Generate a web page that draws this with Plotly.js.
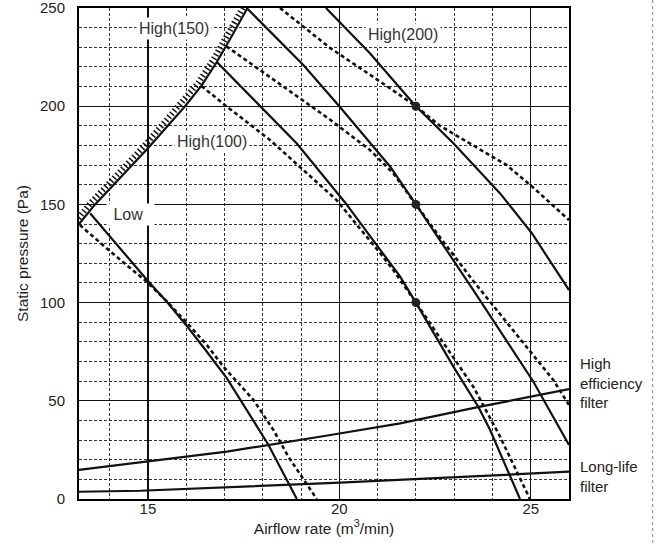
<!DOCTYPE html>
<html>
<head>
<meta charset="utf-8">
<script src="https://cdn.plot.ly/plotly-3.0.1.min.js"></script>
<style>html,body{margin:0;padding:0;background:#fff;}#chart{width:656px;height:543px;}</style>
</head>
<body>
<div id="chart"></div>
<script>
// ---- data ----
const xTickVals = [15, 20, 25];
const yTickVals = [0, 50, 100, 150, 200, 250];

// operating-limit boundary (hatched)
const limitX = [13.2, 13.62, 15.0, 15.97, 16.4, 16.8, 17.2, 17.6];
const limitY = [140, 150, 178.6, 200, 210.5, 222.5, 236, 250];

// Low
const lowSolidX = [13.49, 15.0, 15.5, 16.0, 16.5, 17.06, 17.8, 18.15, 18.89];
const lowSolidY = [145.5, 111, 100.3, 88.5, 76, 61.5, 38.5, 27.5, 0];
const lowDashX = [13.22, 14.02, 14.97, 15.5, 16.1, 16.54, 16.97, 17.76, 18.28, 18.67, 19.41];
const lowDashY = [139.5, 126, 110.6, 100.5, 88, 78.4, 67.4, 50.4, 35.1, 21.5, 0];

// High(100)
const h100SolidX = [16.8, 17.93, 18.89, 20.15, 21.0, 21.59, 22.0, 22.98, 23.63, 23.94, 24.72];
const h100SolidY = [222.5, 200, 181, 151, 129, 113.2, 100, 67.4, 47, 35.1, 0];
const h100DashX = [16.4, 17.05, 18.19, 19.93, 21.07, 21.41, 22.0, 22.72, 23.5, 24.2, 24.98];
const h100DashY = [210.3, 200, 182.8, 152.2, 125.1, 116.6, 100, 79.3, 57.2, 31.7, 0];

// High(150)
const h150SolidX = [17.58, 19.06, 20.0, 21.33, 22.0, 23.5, 25.07, 26.0];
const h150SolidY = [250, 221, 200, 169.2, 150, 106.4, 59.7, 27.5];
const h150DashX = [17.05, 19.77, 20.8, 21.07, 21.41, 22.0, 22.6, 23.5, 24.46, 25.16, 25.59, 26.0];
const h150DashY = [230.5, 193, 177.7, 172.6, 165.8, 150, 134, 111, 87.7, 70.8, 60.6, 47.9];

// High(200)
const h200SolidX = [19.65, 20.8, 21.59, 22.0, 22.98, 24.2, 25.03, 26.0];
const h200SolidY = [250, 227, 209.1, 200, 181.1, 155.6, 135.3, 106.4];
const h200DashX = [18.45, 19.77, 21.07, 22.0, 22.63, 23.5, 24.37, 25.1, 26.0];
const h200DashY = [250, 229.5, 212.5, 200, 190, 180, 170, 158, 142];

// filter resistance curves
const highEffX = [13.2, 15.0, 17.06, 19.77, 21.59, 23.68, 26.0];
const highEffY = [14.8, 19.0, 24.1, 32.6, 38.5, 47.0, 56.0];
const longLifeX = [13.2, 14.8, 20.02, 22.36, 26.0];
const longLifeY = [3.7, 4.2, 8.3, 10.5, 13.9];

// rated points
const ratedX = [22, 22, 22];
const ratedY = [200, 150, 100];

// in-plot labels
const labelText = ['High(150)', 'High(100)', '&nbsp;Low&nbsp;&nbsp;', 'High(200)'];
const labelX = [15.67, 16.67, 14.55, 21.66];
const labelY = [239.7, 181.9, 145.0, 236.3];
const sideText = ['High<br>efficiency<br>filter', 'Long-life<br>filter'];
const sideY = [59.2, 11.5];

// ---- layout geometry ----
const W = 656, H = 543;
const M = {l: 79, r: 87, t: 8, b: 44, pad: 0};
const xRange = [13.2, 26];
const yRange = [0, 250];
const plotW = W - M.l - M.r, plotH = H - M.t - M.b;
const pxX = plotW / (xRange[1] - xRange[0]);
const pxY = plotH / (yRange[1] - yRange[0]);
// hatch offset toward upper-left (pixels)
const hatchDx = 3.2, hatchDy = 2.8;

const FONT = 'Liberation Sans, Arial, Helvetica, sans-serif';
const INK = '#111';

function solid(x, y) {
  return {x, y, type: 'scatter', mode: 'lines', hoverinfo: 'skip', showlegend: false,
          line: {color: INK, width: 2.2}};
}
function dashed(x, y) {
  return {x, y, type: 'scatter', mode: 'lines', hoverinfo: 'skip', showlegend: false,
          line: {color: INK, width: 2.6, dash: '4px,3px'}};
}

const traces = [
  // hatch marks on shifted overlay axes
  {x: limitX, y: limitY, xaxis: 'x2', yaxis: 'y2', type: 'scatter', mode: 'lines',
   hoverinfo: 'skip', showlegend: false,
   line: {color: INK, width: 6, dash: '1.5px,2.6px'}},
  solid(limitX, limitY),
  solid(lowSolidX, lowSolidY), dashed(lowDashX, lowDashY),
  solid(h100SolidX, h100SolidY), dashed(h100DashX, h100DashY),
  solid(h150SolidX, h150SolidY), dashed(h150DashX, h150DashY),
  solid(h200SolidX, h200SolidY), dashed(h200DashX, h200DashY),
  solid(highEffX, highEffY), solid(longLifeX, longLifeY),
  {x: ratedX, y: ratedY, type: 'scatter', mode: 'markers', hoverinfo: 'skip', showlegend: false,
   marker: {color: '#222', size: 9}}
];

const annotations = labelText.map((t, i) => ({
  x: labelX[i], y: labelY[i], xref: 'x', yref: 'y', text: t, showarrow: false,
  bgcolor: '#fff', borderpad: 2, font: {family: FONT, size: 16, color: '#333'}
}));
sideText.forEach((t, i) => annotations.push({
  x: (578 - M.l) / plotW, xref: 'paper', y: sideY[i], yref: 'y', text: t,
  showarrow: false, xanchor: 'left', yanchor: 'middle', align: 'left',
  font: {family: FONT, size: 15, color: '#222'}
}));

const gridMinor = {showgrid: true, gridcolor: '#333', gridwidth: 1, griddash: '3px,2px'};

const layout = {
  width: W, height: H, margin: M,
  paper_bgcolor: '#fff', plot_bgcolor: '#fff',
  font: {family: FONT, size: 15, color: '#222'},
  showlegend: false,
  xaxis: {
    range: xRange, tickvals: xTickVals, ticks: '', showgrid: true, gridcolor: '#111', gridwidth: 1.2,
    minor: Object.assign({dtick: 1, tick0: 0}, gridMinor),
    zeroline: false, showline: true, mirror: true, linecolor: '#000', linewidth: 2,
    ticklabelstandoff: -5, ticklabeloverflow: 'allow', tickfont: {size: 15, color: '#222'},
    title: {text: 'Airflow rate (m<sup>3</sup>/min)', font: {size: 15.5, color: '#222'}, standoff: 0}
  },
  yaxis: {
    range: yRange, tickvals: yTickVals, ticks: '', showgrid: true, gridcolor: '#111', gridwidth: 1.2,
    minor: Object.assign({dtick: 10, tick0: 0}, gridMinor),
    zeroline: false, showline: true, mirror: true, linecolor: '#000', linewidth: 2,
    ticklabelstandoff: 9, ticklabeloverflow: 'allow', tickfont: {size: 15, color: '#222'},
    title: {text: 'Static pressure (Pa)', font: {size: 15.5, color: '#222'}, standoff: 8}
  },
  xaxis2: {overlaying: 'x', anchor: 'y2', visible: false,
           range: [xRange[0] + hatchDx / pxX, xRange[1] + hatchDx / pxX]},
  yaxis2: {overlaying: 'y', anchor: 'x2', visible: false,
           range: [yRange[0] - hatchDy / pxY, yRange[1] - hatchDy / pxY]},
  annotations: annotations,
  shapes: [{
    type: 'line', xref: 'paper', yref: 'paper',
    x0: (652.7 - M.l) / plotW, x1: (652.7 - M.l) / plotW,
    y0: -(M.b) / plotH, y1: 1 + M.t / plotH,
    line: {color: '#888', width: 1, dash: 'dot'}
  }]
};

Plotly.newPlot('chart', traces, layout, {staticPlot: true, displayModeBar: false});
</script>
</body>
</html>
